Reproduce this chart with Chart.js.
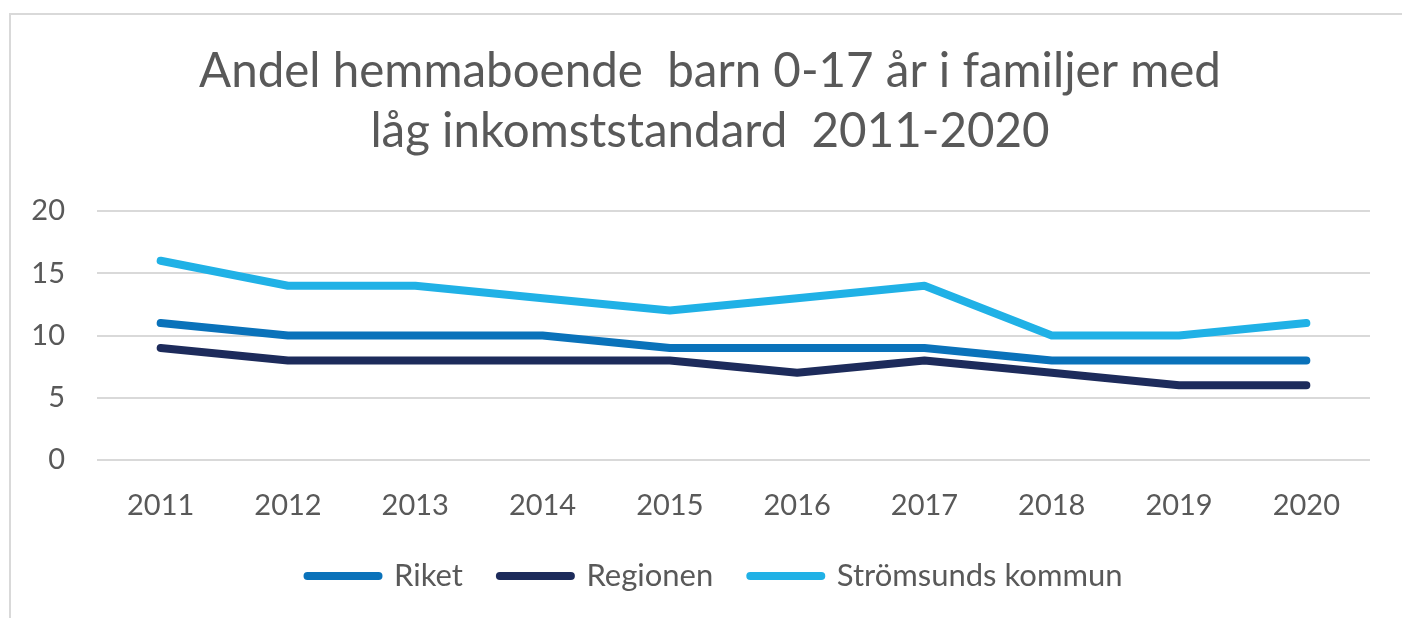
<!DOCTYPE html>
<html>
<head>
<meta charset="utf-8">
<script src="https://cdn.jsdelivr.net/npm/chart.js@4.4.1/dist/chart.umd.min.js"></script>
<style>
  html, body { margin: 0; padding: 0; background: #ffffff; overflow: hidden; }
  #frame { position: absolute; left: 9px; top: 13px; width: 1420px; height: 640px; border: 2px solid #d9d9d9; box-sizing: border-box; }
  #wrap { position: absolute; left: 0; top: 0; width: 1402px; height: 618px; }
</style>
</head>
<body>
<div id="frame"></div>
<div id="wrap"><canvas id="c" width="1402" height="618"></canvas></div>
<script>
const years = ['2011','2012','2013','2014','2015','2016','2017','2018','2019','2020'];
const riket = [11, 10, 10, 10, 9, 9, 9, 8, 8, 8];
const regionen = [9, 8, 8, 8, 8, 7, 8, 7, 6, 6];
const stromsund = [16, 14, 14, 13, 12, 13, 14, 10, 10, 11];
const yTicks = [0, 5, 10, 15, 20];
const titleLines = ['Andel hemmaboende  barn 0-17 år i familjer med', 'låg inkomststandard  2011-2020'];

const FONT = 'Lato, "Open Sans", sans-serif';
const TXT = '#595959';

function ds(label, data, color) {
  return {
    label, data,
    borderColor: color, backgroundColor: color,
    borderWidth: 8, borderCapStyle: 'round', borderJoinStyle: 'round',
    pointRadius: 0, pointHoverRadius: 0, tension: 0, fill: false
  };
}

// centre title and legend on the outer frame rather than the padded box
const centerShift = {
  id: 'centerShift',
  afterLayout(chart) {
    if (chart.titleBlock) { chart.titleBlock.left += 16; chart.titleBlock.right += 16; }
    if (chart.legend) { chart.legend.left += 21; chart.legend.right += 21; }
  }
};

new Chart(document.getElementById('c'), {
  type: 'line',
  data: {
    labels: years,
    datasets: [
      ds('Riket', riket, '#0a72ba'),
      ds('Regionen', regionen, '#1d2b5b'),
      ds('Strömsunds kommun', stromsund, '#20b1e6')
    ]
  },
  plugins: [centerShift],
  options: {
    responsive: false,
    animation: false,
    layout: { padding: { left: 18, right: 32, top: 41.5, bottom: 16.5 } },
    plugins: {
      title: {
        display: true,
        text: titleLines,
        color: TXT,
        font: { family: FONT, size: 47.5, weight: 'normal', lineHeight: 60 / 47.5 },
        padding: { top: 0, bottom: 49.5 }
      },
      legend: {
        position: 'bottom',
        labels: {
          color: TXT,
          font: { family: FONT, size: 31 },
          usePointStyle: true,
          pointStyleWidth: 71,
          boxHeight: 8,
          padding: 37,
          generateLabels: (chart) => chart.data.datasets.map((d, i) => ({
            text: d.label,
            fillStyle: d.borderColor,
            strokeStyle: d.borderColor,
            lineWidth: 8,
            lineCap: 'round',
            pointStyle: 'line',
            fontColor: TXT,
            datasetIndex: i,
            hidden: false
          }))
        }
      },
      tooltip: { enabled: false }
    },
    scales: {
      x: {
        offset: true,
        grid: { display: false, drawTicks: false },
        border: { display: false },
        ticks: { color: TXT, font: { family: FONT, size: 29 }, padding: 28, maxRotation: 0 },
        afterFit: (s) => { s.height = 63.5; }
      },
      y: {
        min: 0, max: 20,
        afterBuildTicks: (s) => { s.ticks = yTicks.map(v => ({ value: v })); },
        grid: { color: '#d9d9d9', lineWidth: 2, drawTicks: false },
        border: { display: false },
        ticks: { color: TXT, font: { family: FONT, size: 29 }, padding: 32 },
        afterFit: (s) => { s.width = 79; }
      }
    }
  }
});
</script>
</body>
</html>
